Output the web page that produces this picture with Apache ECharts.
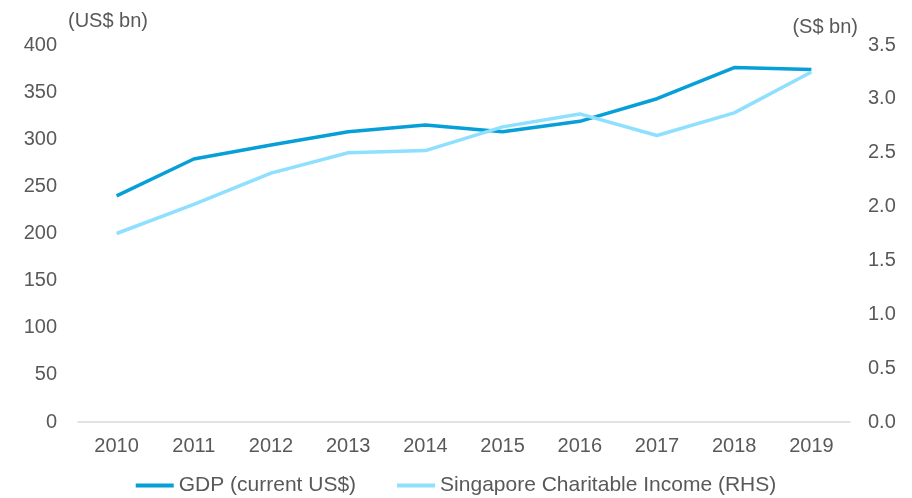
<!DOCTYPE html>
<html>
<head>
<meta charset="utf-8">
<script src="https://cdn.jsdelivr.net/npm/echarts@6/dist/echarts.min.js"></script>
<style>
  html, body { margin: 0; padding: 0; background: #fff; }
  #main { width: 912px; height: 498px; }
</style>
</head>
<body>
<div id="main"></div>
<script>
// categories and values
var years = ['2010', '2011', '2012', '2013', '2014', '2015', '2016', '2017', '2018', '2019'];
var gdp = [240, 279, 294, 308, 315, 308, 319, 343, 376, 374];          // US$ bn, left axis
var charity = [1.75, 2.02, 2.31, 2.50, 2.52, 2.74, 2.86, 2.66, 2.87, 3.25]; // S$ bn, right axis

var labelColor = '#595959';
var font = 'Liberation Sans, Arial, sans-serif';

var chart = echarts.init(document.getElementById('main'));
chart.setOption({
  animation: false,
  textStyle: { fontFamily: font },
  grid: { left: 78, right: 62, top: 45, bottom: 76 },
  legend: {
    top: 470,
    left: 'center',
    itemWidth: 38,
    itemHeight: 4,
    itemGap: 41,
    icon: 'rect',
    textStyle: { fontSize: 21, color: labelColor, fontFamily: font },
    data: ['GDP (current US$)', 'Singapore Charitable Income (RHS)']
  },
  xAxis: {
    type: 'category',
    data: years,
    boundaryGap: true,
    axisLine: { lineStyle: { color: '#d9d9d9', width: 1.5 } },
    axisTick: { show: false },
    axisLabel: { color: labelColor, fontSize: 20, margin: 14 },
    splitLine: { show: false }
  },
  yAxis: [
    {
      type: 'value',
      min: 0, max: 400, interval: 50,
      name: '(US$ bn)',
      nameGap: 14,
      nameTextStyle: { color: labelColor, fontSize: 20, align: 'left', padding: [0, 0, 0, -10] },
      axisLine: { show: false },
      axisTick: { show: false },
      splitLine: { show: false },
      axisLabel: { color: labelColor, fontSize: 20, margin: 21 }
    },
    {
      type: 'value',
      min: 0, max: 3.5, interval: 0.5,
      name: '(S$ bn)',
      nameGap: 8,
      nameTextStyle: { color: labelColor, fontSize: 20, align: 'right', padding: [0, -8, 0, 0] },
      axisLine: { show: false },
      axisTick: { show: false },
      splitLine: { show: false },
      axisLabel: { color: labelColor, fontSize: 20, margin: 18, formatter: function (v) { return v.toFixed(1); } }
    }
  ],
  series: [
    {
      name: 'GDP (current US$)',
      type: 'line',
      yAxisIndex: 0,
      data: gdp,
      symbol: 'none',
      lineStyle: { color: '#079fd8', width: 3.5 },
      itemStyle: { color: '#079fd8' }
    },
    {
      name: 'Singapore Charitable Income (RHS)',
      type: 'line',
      yAxisIndex: 1,
      data: charity,
      symbol: 'none',
      lineStyle: { color: '#8fdfff', width: 3.5 },
      itemStyle: { color: '#8fdfff' }
    }
  ]
});
</script>
</body>
</html>
